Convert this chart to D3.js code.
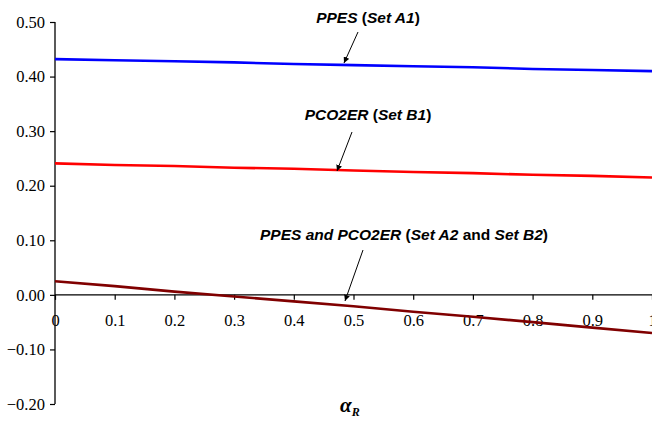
<!DOCTYPE html>
<html>
<head>
<meta charset="utf-8">
<script src="https://cdn.jsdelivr.net/npm/d3@7"></script>
<style>
html,body{margin:0;padding:0;background:#fff;}
svg{display:block;}
</style>
</head>
<body>
<svg id="chart" width="652" height="423"></svg>
<script>
const xValues = [0, 0.1, 0.2, 0.3, 0.4, 0.5, 0.6, 0.7, 0.8, 0.9, 1.0];
const ppesA1 = [0.432, 0.430, 0.428, 0.426, 0.423, 0.421, 0.419, 0.417, 0.414, 0.412, 0.410];
const pco2erB1 = [0.241, 0.238, 0.236, 0.233, 0.231, 0.228, 0.225, 0.223, 0.220, 0.218, 0.215];
const setA2B2 = [0.025, 0.016, 0.006, -0.003, -0.012, -0.021, -0.031, -0.040, -0.050, -0.060, -0.070];
const yTicks = [0.5, 0.4, 0.3, 0.2, 0.1, 0.0, -0.1, -0.2];
const xTicks = [0, 0.1, 0.2, 0.3, 0.4, 0.5, 0.6, 0.7, 0.8, 0.9, 1];
const xTickLabels = ["0", "0.1", "0.2", "0.3", "0.4", "0.5", "0.6", "0.7", "0.8", "0.9", "1"];

const SERIF = "'Liberation Serif', 'Times New Roman', Times, serif";
const SANS = "'Liberation Sans', Arial, Helvetica, sans-serif";

const svg = d3.select("#chart");
const x = d3.scaleLinear().domain([0, 1]).range([55, 652]);
const y = d3.scaleLinear().domain([-0.2, 0.5]).range([404, 22]);

// y axis
const yAxis = svg.append("g").attr("transform", `translate(${x(0)},0)`)
  .call(d3.axisLeft(y).tickValues(yTicks).tickSize(5).tickPadding(5).tickFormat(d3.format(".2f")));
yAxis.attr("font-family", SERIF).attr("font-size", 16.5);
yAxis.select(".domain").attr("stroke", "#000").attr("stroke-width", 1.3).attr("d", `M0,${y(0.5)}V${y(-0.2)}`);
yAxis.selectAll(".tick line").attr("stroke", "#000").attr("stroke-width", 1.2);
yAxis.selectAll(".tick text").style("font-family", SERIF).style("font-size", "16.5px").attr("fill", "#000");

// x axis at y=0
const xAxis = svg.append("g").attr("transform", `translate(0,${y(0)})`)
  .call(d3.axisBottom(x).tickValues(xTicks).tickSize(5).tickPadding(14).tickFormat((d, i) => xTickLabels[i]));
xAxis.attr("font-family", SERIF).attr("font-size", 16.5);
xAxis.select(".domain").attr("stroke", "#000").attr("stroke-width", 1.2).attr("d", `M${x(0)},0H${x(1)}`);
xAxis.selectAll(".tick line").attr("stroke", "#000").attr("stroke-width", 1.2);
xAxis.selectAll(".tick text").style("font-family", SERIF).style("font-size", "16.5px").attr("fill", "#000");

const line = d3.line().x((d, i) => x(xValues[i])).y(d => y(d));
const series = [
  {data: ppesA1, color: "#0000ff"},
  {data: pco2erB1, color: "#ff0000"},
  {data: setA2B2, color: "#800000"}
];
svg.append("g").selectAll("path").data(series).join("path")
  .attr("d", d => line(d.data))
  .attr("fill", "none")
  .attr("stroke", d => d.color)
  .attr("stroke-width", 2.6);

// arrow marker
svg.append("defs").append("marker")
  .attr("id", "arr").attr("viewBox", "0 0 10 10").attr("refX", 10).attr("refY", 5)
  .attr("markerWidth", 6).attr("markerHeight", 6).attr("markerUnits", "userSpaceOnUse").attr("orient", "auto")
  .append("path").attr("d", "M0,0L10,5L0,10Z").attr("fill", "#000");

function annotation(cx, cy, parts, ax1, ay1, ax2, ay2) {
  const t = svg.append("text").attr("x", cx).attr("y", cy).attr("text-anchor", "middle")
    .style("font-family", SANS).style("font-size", "15.5px").style("font-weight", "bold").attr("fill", "#000");
  parts.forEach(p => t.append("tspan").style("font-style", p[1] ? "italic" : "normal").text(p[0]));
  svg.append("line").attr("x1", ax1).attr("y1", ay1).attr("x2", ax2).attr("y2", ay2)
    .attr("stroke", "#000").attr("stroke-width", 1).attr("marker-end", "url(#arr)");
}
annotation(368, 23, [["PPES ", true], ["(", false], ["Set A1", true], [")", false]], 358, 32, 344, 63);
annotation(368, 120, [["PCO2ER ", true], ["(", false], ["Set B1", true], [")", false]], 352, 132, 337, 171);
annotation(404, 240, [["PPES and PCO2ER ", true], ["(", false], ["Set A2", true], [" and ", false], ["Set B2", true], [")", false]], 363, 250, 345, 301);

// x axis title alpha_R
const xt = svg.append("text").attr("x", 340).attr("y", 412)
  .style("font-family", SERIF).style("font-weight", "bold").style("font-style", "italic").attr("fill", "#000");
xt.append("tspan").style("font-size", "21px").text("α");
xt.append("tspan").style("font-size", "12px").attr("dy", 4).text("R");
</script>
</body>
</html>
